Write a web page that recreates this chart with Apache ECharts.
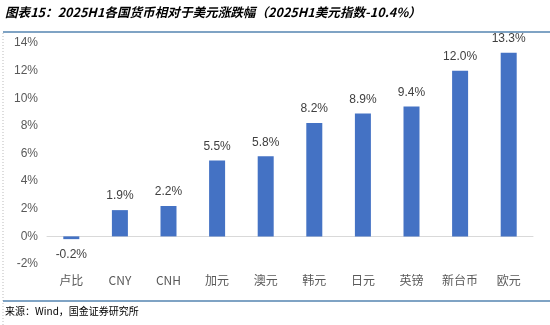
<!DOCTYPE html>
<html><head><meta charset="utf-8">
<script src="https://cdn.jsdelivr.net/npm/echarts@6/dist/echarts.min.js"></script>
<style>html,body{margin:0;padding:0;background:#fff}#c{width:550px;height:325px}</style>
</head><body><div id="c"></div>
<script>
const categories = ['卢比','CNY','CNH','加元','澳元','韩元','日元','英镑','新台币','欧元'];
const values = [-0.2, 1.9, 2.2, 5.5, 5.8, 8.2, 8.9, 9.4, 12.0, 13.3];
const titleText = '图表15：2025H1各国货币相对于美元涨跌幅（2025H1美元指数-10.4%）';
const sourceText = '来源：Wind，国金证券研究所';

const chart = echarts.init(document.getElementById('c'), null, {renderer:'canvas'});
chart.setOption({
  animation:false,
  grid:{left:47, right:17, top:43, bottom:61},
  xAxis:{type:'category', data:categories,
    axisLine:{onZero:true, lineStyle:{color:'#d9d9d9', width:1}},
    axisTick:{show:false},
    axisLabel:{interval:0, color:'#595959', fontSize:12, fontFamily:'Noto Sans CJK SC', margin:10}},
  yAxis:{type:'value', min:-2, max:14, interval:2,
    splitLine:{show:false}, axisLine:{show:false}, axisTick:{show:false},
    axisLabel:{formatter:v=>v+'%', color:'#595959', fontSize:12, fontFamily:'Liberation Sans', margin:9}},
  series:[{type:'bar', barWidth:16,
    data:values.map(v=>({value:v, label:{position: v<0?'bottom':'top', distance: v<0?10:8}})),
    itemStyle:{color:'#4472C4'},
    label:{show:true, distance:8, color:'#404040', fontSize:12, fontFamily:'Liberation Sans',
      formatter:p=>p.value.toFixed(1)+'%'}}],
  graphic:[
    {type:'text', left:5, top:6, style:{text:titleText, fill:'#000', font:'italic bold 12.6px "Noto Sans CJK SC"'}},
    {type:'line', shape:{x1:3, y1:32, x2:550, y2:32}, style:{stroke:'#5585b0', lineWidth:1.5}},
    {type:'line', shape:{x1:3, y1:33, x2:3, y2:325}, style:{stroke:'#bbb', lineWidth:1, lineDash:[1,2]}},
    {type:'line', shape:{x1:3, y1:301, x2:550, y2:301}, style:{stroke:'#5585b0', lineWidth:1.5}},
    {type:'text', left:5, top:306, style:{text:sourceText, fill:'#000', font:'10px "Noto Sans CJK SC"'}}
  ]
});
</script></body></html>
